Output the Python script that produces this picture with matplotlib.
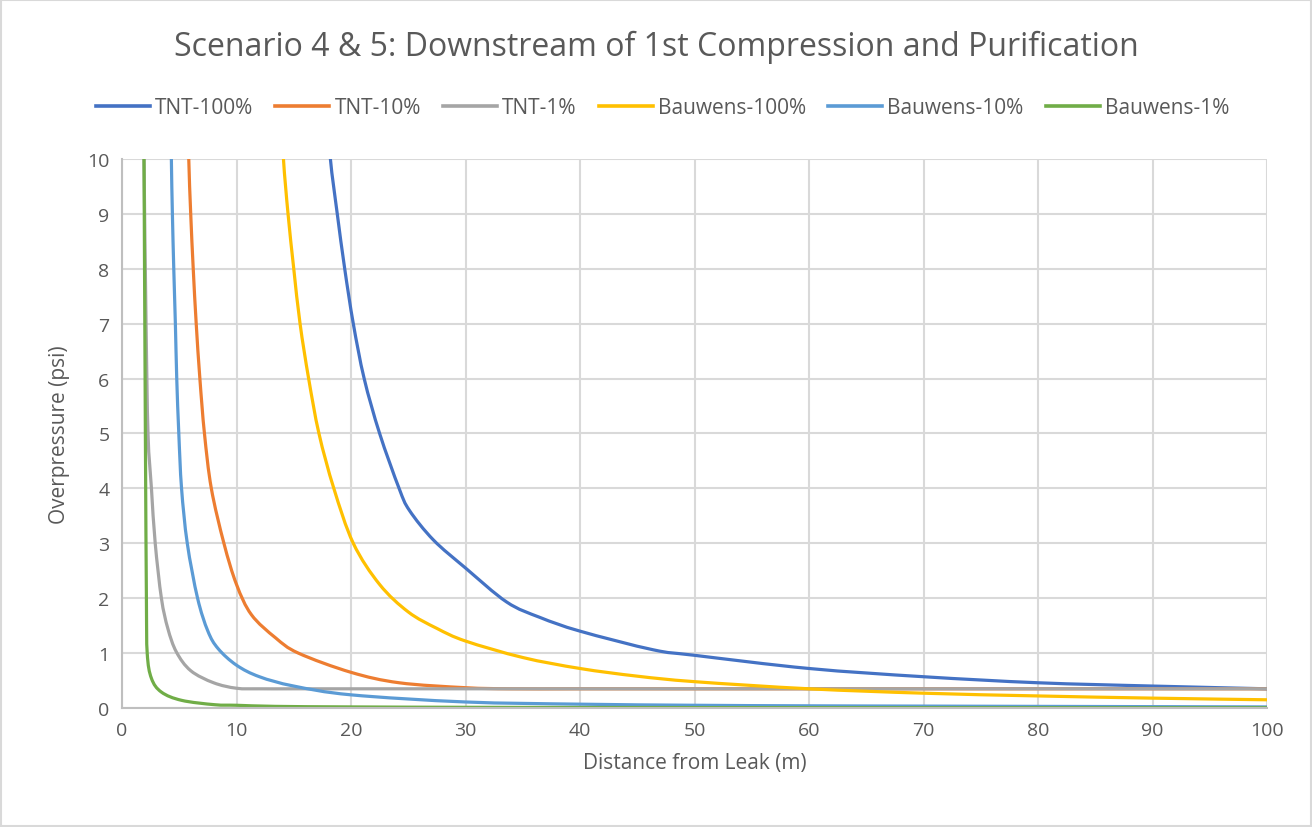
import matplotlib
matplotlib.use("Agg")
import matplotlib.pyplot as plt
from matplotlib.path import Path
from matplotlib.patches import PathPatch, Rectangle

plt.rcParams['font.family'] = ['Open Sans', 'DejaVu Sans']

# Overpressure vs distance, read per series (distance m, overpressure psi)
tnt100_x = [17.9, 18.2, 18.8, 19.45, 20.2, 21.15, 22.5, 24.2, 25.1, 27.2, 30, 33.6, 36.5, 40, 46.4, 50, 60, 70, 80, 90, 100]
tnt100_y = [11, 10, 9, 8, 7, 6, 5, 4, 3.6, 3.06, 2.55, 1.93, 1.65, 1.40, 1.06, 0.96, 0.72, 0.57, 0.46, 0.40, 0.35]

tnt10_x = [5.75, 5.83, 6.0, 6.22, 6.48, 6.8, 7.2, 7.8, 8.9, 10, 11.3, 13.4, 15.4, 20, 24.2, 30, 34, 40, 50, 60, 70, 80, 90, 100]
tnt10_y = [11, 10, 9, 8, 7, 6, 5, 4, 3, 2.25, 1.7, 1.28, 1.0, 0.65, 0.46, 0.37, 0.35, 0.35, 0.35, 0.35, 0.35, 0.35, 0.35, 0.35]

tnt1_x = [1.9, 1.92, 2.1, 2.27, 2.57, 2.9, 3.44, 4.0, 4.75, 6.0, 8.0, 10, 12, 15, 20, 30, 40, 50, 60, 70, 80, 90, 100]
tnt1_y = [11, 10, 7, 5, 4, 3, 2, 1.45, 1.02, 0.68, 0.46, 0.36, 0.35, 0.35, 0.35, 0.35, 0.35, 0.35, 0.35, 0.35, 0.35, 0.35, 0.35]

bau100_x = [13.9, 14.1, 14.5, 15.0, 15.55, 16.3, 17.2, 18.5, 20.2, 22.5, 25, 27.5, 30, 35, 40, 45, 50, 60, 70, 80, 90, 100]
bau100_y = [11, 10, 9, 8, 7, 6, 5, 4, 3, 2.25, 1.75, 1.45, 1.22, 0.92, 0.72, 0.58, 0.48, 0.35, 0.27, 0.22, 0.18, 0.15]

bau10_x = [4.27, 4.31, 4.4, 4.52, 4.66, 4.78, 4.96, 5.2, 5.7, 6.6, 7.5, 8.4, 10, 12, 15, 20, 30, 40, 50, 60, 70, 80, 90, 100]
bau10_y = [11, 10, 9, 8, 7, 6, 5, 4, 3, 2, 1.4, 1.08, 0.78, 0.57, 0.40, 0.24, 0.11, 0.07, 0.05, 0.04, 0.035, 0.03, 0.025, 0.02]

bau1_x = [1.9, 1.92, 2.04, 2.13, 2.2, 2.57, 3.44, 5.2, 8.1, 10, 13.4, 20, 30, 40, 50, 60, 70, 80, 90, 100]
bau1_y = [11, 10, 5, 2, 1, 0.54, 0.29, 0.14, 0.06, 0.05, 0.03, 0.02, 0.013, 0.01, 0.008, 0.007, 0.006, 0.006, 0.005, 0.005]

series = [
    ("TNT-100%", tnt100_x, tnt100_y, "#4472C4"),
    ("TNT-10%", tnt10_x, tnt10_y, "#ED7D31"),
    ("TNT-1%", tnt1_x, tnt1_y, "#A5A5A5"),
    ("Bauwens-100%", bau100_x, bau100_y, "#FFC000"),
    ("Bauwens-10%", bau10_x, bau10_y, "#5B9BD5"),
    ("Bauwens-1%", bau1_x, bau1_y, "#70AD47"),
]

text_col = "#595959"
grid_col = "#d9d9d9"


def smooth_path(xs, ys):
    # spreadsheet-style smoothed line: cubic Bezier segments through every point
    pts = list(zip(xs, ys))
    verts = [pts[0]]
    codes = [Path.MOVETO]
    n = len(pts)
    for i in range(n - 1):
        p0 = pts[max(i - 1, 0)]
        p1 = pts[i]
        p2 = pts[i + 1]
        p3 = pts[min(i + 2, n - 1)]
        c1 = (p1[0] + (p2[0] - p0[0]) / 6, p1[1] + (p2[1] - p0[1]) / 6)
        c2 = (p2[0] - (p3[0] - p1[0]) / 6, p2[1] - (p3[1] - p1[1]) / 6)
        verts += [c1, c2, p2]
        codes += [Path.CURVE4] * 3
    return Path(verts, codes)


fig = plt.figure(figsize=(13.12, 8.28), dpi=100)
ax = fig.add_axes([0.093, 0.1437, 0.8727, 0.6631])

for name, xs, ys, col in series:
    ax.add_patch(PathPatch(smooth_path(xs, ys), fill=False, edgecolor=col,
                           lw=2.3, capstyle='round', joinstyle='round'))
    ax.plot([], [], color=col, lw=2.6, label=name)

ax.set_xlim(0, 100)
ax.set_ylim(0, 10)
ax.set_xticks(range(0, 101, 10))
ax.set_yticks(range(0, 11, 1))
ax.grid(True, color=grid_col, lw=1.5)
ax.set_axisbelow(True)
ax.tick_params(length=0, labelsize=14, labelcolor=text_col, pad=9)
for s in ['top', 'right']:
    ax.spines[s].set_visible(False)
for s in ['left', 'bottom']:
    ax.spines[s].set_color("#bfbfbf")
    ax.spines[s].set_linewidth(1.5)

ax.set_xlabel("Distance from Leak (m)", fontsize=15, color=text_col, labelpad=10)
ax.set_ylabel("Overpressure (psi)", fontsize=15, color=text_col, labelpad=12)

fig.text(0.5, 0.943, "Scenario 4 & 5: Downstream of 1st Compression and Purification",
         ha='center', va='center', fontsize=23, color=text_col)

fig.legend(loc='center', bbox_to_anchor=(0.505, 0.869), ncol=6, frameon=False,
           fontsize=15, labelcolor=text_col, handlelength=2.6, handletextpad=0.25,
           columnspacing=1.05)

# light chart border
fig.patches.append(Rectangle((0.001, 0.001), 0.998, 0.998, transform=fig.transFigure,
                             fill=False, edgecolor=grid_col, lw=1.5))

fig.savefig("out.png", dpi=100)
